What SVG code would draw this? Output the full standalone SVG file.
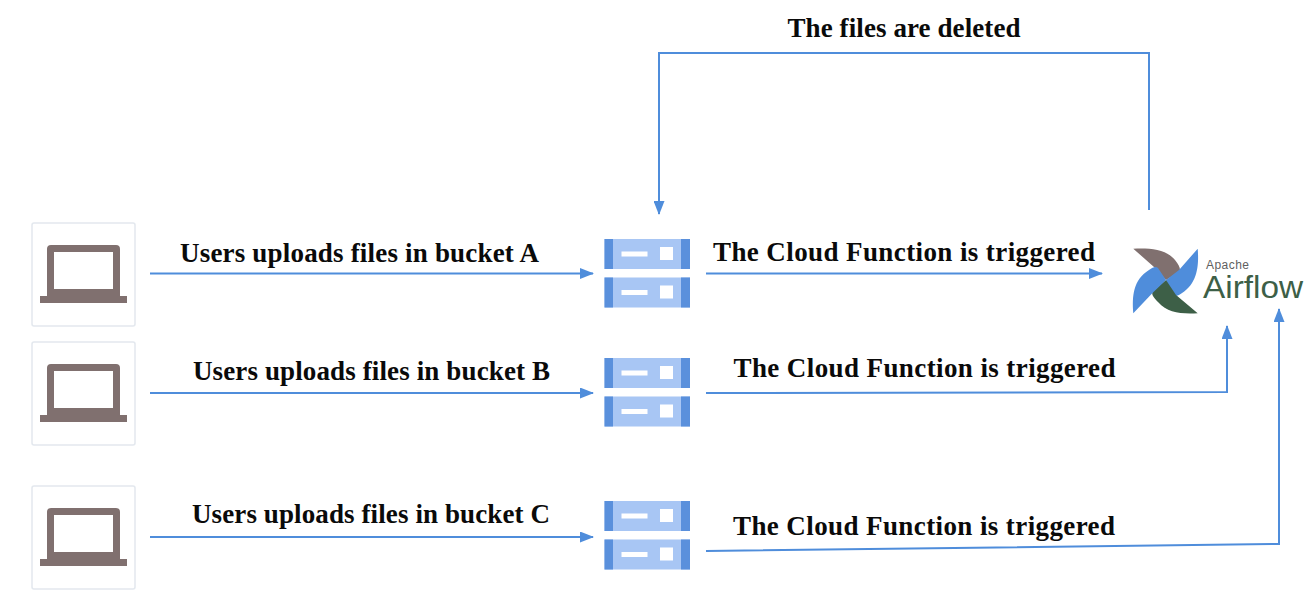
<svg xmlns="http://www.w3.org/2000/svg" width="1316" height="602" viewBox="0 0 1316 602">
<style>
.lbl{font-family:"Liberation Serif","Times New Roman",serif;font-weight:700;font-size:27px;fill:#0a0a0a;text-anchor:middle}
.conn{fill:none;stroke:#4f8ddb;stroke-width:2}
.card{fill:#fff;stroke:#e3e8ee;stroke-width:1.5}
.lap{fill:#80706f}
.srv{fill:#a8c6f4}
.srvd{fill:#5a90dc}
.srvw{fill:#fff}
</style>
<defs>
<marker id="arrow" markerUnits="userSpaceOnUse" markerWidth="14" markerHeight="11" refX="13" refY="5.500" orient="auto"><path d="M0 0L14 5.500L0 11Z" fill="#4f8ddb"/></marker>
<g id="laptop">
<rect class="card" x="0" y="0" width="103" height="103" rx="2"/>
<path class="lap" fill-rule="evenodd" d="M19 22H84Q88 22 88 26V73H95V80H8V73H15V26Q15 22 19 22ZM22 29V66H81V29Z"/>
</g>
<g id="unit">
<rect class="srv" x="0" y="0" width="85.500" height="30"/>
<rect class="srvd" x="0" y="0" width="8.500" height="30"/>
<rect class="srvd" x="76.500" y="0" width="9" height="30"/>
<rect class="srvw" x="17" y="12.500" width="26" height="5"/>
<rect class="srvw" x="55.500" y="8" width="13" height="13"/>
</g>
<g id="server"><use href="#unit"/><use href="#unit" y="38.500"/></g>
</defs>
<g id="connectors">
<path class="conn" marker-end="url(#arrow)" d="M150 273.500H593"/>
<path class="conn" marker-end="url(#arrow)" d="M150 393H593"/>
<path class="conn" marker-end="url(#arrow)" d="M150 537H593"/>
<path class="conn" marker-end="url(#arrow)" d="M706 273.500H1102"/>
<path class="conn" marker-end="url(#arrow)" d="M706 393L1227 392V326"/>
<path class="conn" marker-end="url(#arrow)" d="M706 551L1279 544V309"/>
<path class="conn" marker-end="url(#arrow)" d="M1149 210V53H659V214"/>
</g>
<g id="laptop-a"><use href="#laptop" x="32" y="223"/></g>
<g id="laptop-b"><use href="#laptop" x="32" y="342"/></g>
<g id="laptop-c"><use href="#laptop" x="32" y="486"/></g>
<g id="bucket-a"><use href="#server" x="604.500" y="239"/></g>
<g id="bucket-b"><use href="#server" x="604.500" y="358"/></g>
<g id="bucket-c"><use href="#server" x="604.500" y="501"/></g>
<g id="airflow">
<path fill="#80706f" d="M1133.300 248.700C1150 248 1166 249 1175 260C1180 266 1181 270 1179 272L1166 280L1154 267Z"/>
<path fill="#4f8ddb" d="M1197.700 248.700C1199 265 1198 285 1179 295C1175 297 1172 296 1170 293L1166 280L1179 270Z"/>
<path fill="#3d5f47" d="M1197.700 313.300C1180 314 1168 313 1158 302C1153 297 1151 294 1153 291L1166 280L1176 295Z"/>
<path fill="#4f8ddb" d="M1133.300 313.300C1132 296 1133 280 1149 270C1153 267 1156 266 1158 268L1166 280L1152.500 293Z"/>
<text x="1206" y="269" font-family="Liberation Sans,Arial,sans-serif" font-size="12" fill="#5f5f5f" textLength="43">Apache</text>
<text x="1203" y="298" font-family="Liberation Sans,Arial,sans-serif" font-size="31" fill="#3d5f47" textLength="100" lengthAdjust="spacingAndGlyphs">Airflow</text>
</g>
<g id="labels">
<text class="lbl" x="904" y="37" textLength="233">The files are deleted</text>
<text class="lbl" x="359.500" y="262" textLength="359">Users uploads files in bucket A</text>
<text class="lbl" x="371.500" y="380" textLength="357">Users uploads files in bucket B</text>
<text class="lbl" x="371" y="523" textLength="358">Users uploads files in bucket C</text>
<text class="lbl" x="904" y="261" textLength="382">The Cloud Function is triggered</text>
<text class="lbl" x="924.500" y="377" textLength="382">The Cloud Function is triggered</text>
<text class="lbl" x="924" y="535" textLength="382">The Cloud Function is triggered</text>
</g>
</svg>
